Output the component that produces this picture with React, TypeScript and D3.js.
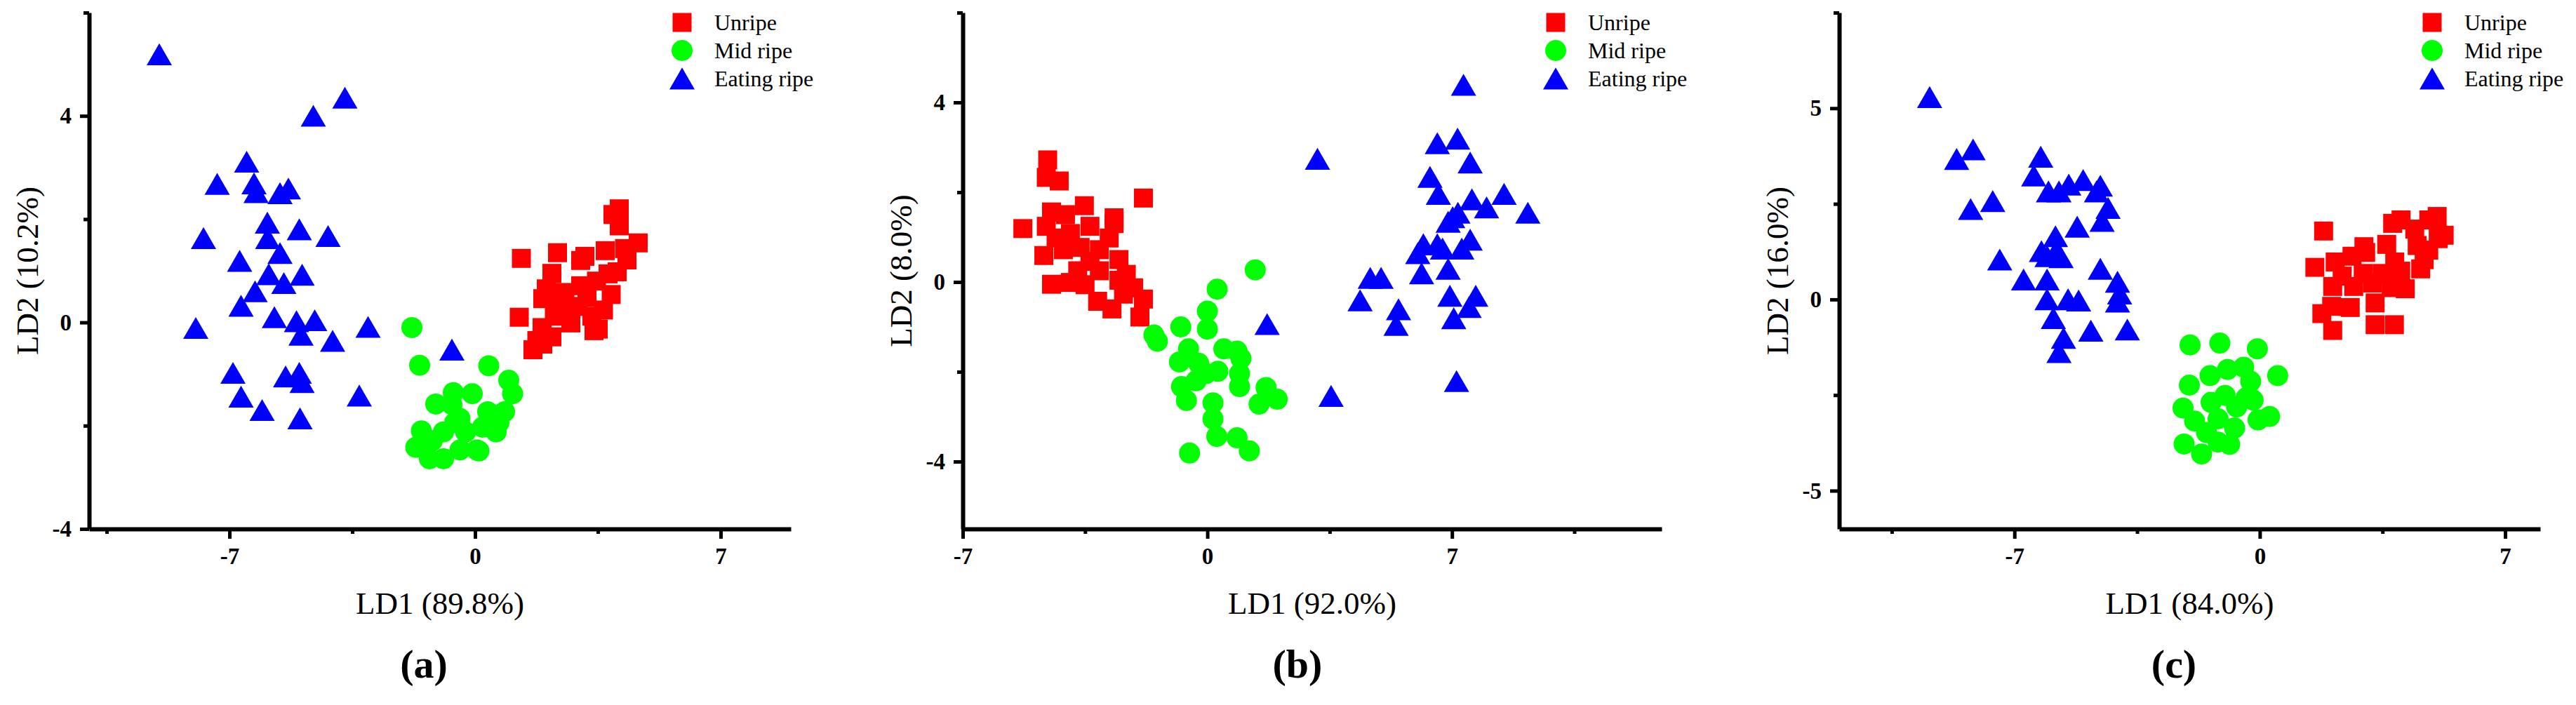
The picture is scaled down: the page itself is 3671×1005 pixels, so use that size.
import React, { useRef, useEffect } from 'react';
import * as d3 from 'd3';

type Pt = [number, number];

// ---- data ----
const UNRIPE_A: Pt[] = [
  [4.11, 2.2], [3.93, 2.09], [4.11, 1.87], [4.65, 1.54], [1.32, 1.24], [2.35, 1.35], [3.71, 1.39],
  [4.26, 1.43], [3.13, 1.28], [3.01, 1.2], [4.33, 1.21], [4.05, 0.98], [2.19, 0.95], [2.03, 0.65],
  [1.93, 0.46], [2.56, 0.58], [3.01, 0.71], [3.46, 0.8], [3.88, 0.54], [3.66, 0.24], [2.93, 0.31],
  [2.26, 0.12], [1.26, 0.1], [2.73, -0.01], [3.39, -0.16], [3.51, -0.13], [1.91, -0.1], [2.19, -0.28],
  [1.76, -0.35], [1.65, -0.53], [1.93, -0.42], [3.19, 0.49], [2.46, 0.31], [3.33, 0.12], [3.79, 0.94],
];
const MID_A: Pt[] = [
  [-1.8, -0.1], [-1.58, -0.83], [0.39, -0.84], [0.96, -1.12], [1.07, -1.38], [-1.12, -1.58],
  [-0.62, -1.36], [-0.08, -1.38], [-1.53, -2.1], [0.36, -1.73], [0.84, -1.73], [0.6, -2.12],
  [-1.69, -2.42], [-1.3, -2.64], [-0.9, -2.64], [-0.43, -2.47], [0.05, -2.47], [-0.27, -2.12],
  [-0.58, -1.94], [-0.9, -2.12], [-1.22, -2.29], [0.21, -2.03], [0.68, -1.94], [-0.66, -1.59],
  [-0.43, -1.86], [0.11, -2.49],
];
const EATING_A: Pt[] = [
  [-9.0, 5.19], [-4.61, 4.0], [-3.71, 4.35], [-6.51, 3.11], [-7.35, 2.68], [-6.3, 2.69], [-6.24, 2.52],
  [-5.56, 2.5], [-5.32, 2.59], [-5.92, 1.93], [-5.01, 1.8], [-4.19, 1.67], [-7.74, 1.63], [-5.91, 1.63],
  [-5.56, 1.34], [-6.71, 1.19], [-5.88, 0.93], [-4.93, 0.92], [-5.45, 0.76], [-6.27, 0.6], [-6.67, 0.32],
  [-5.72, 0.1], [-5.09, 0.02], [-4.57, 0.04], [-4.96, -0.24], [-4.06, -0.36], [-7.96, -0.11],
  [-3.05, -0.09], [-6.9, -0.98], [-5.4, -1.05], [-5.01, -0.98], [-4.93, -1.16], [-6.67, -1.44],
  [-6.07, -1.7], [-3.3, -1.42], [-4.99, -1.86], [-0.66, -0.53],
];

const UNRIPE_B: Pt[] = [
  [-4.57, 2.72], [-4.61, 2.33], [-4.24, 2.25], [-1.83, 1.87], [-5.28, 1.19], [-3.52, 1.7], [-4.46, 1.56],
  [-2.67, 1.43], [-2.67, 1.3], [-4.61, 1.24], [-4.06, 1.5], [-3.92, 1.08], [-3.36, 1.24], [-2.81, 0.98],
  [-4.68, 0.59], [-4.12, 0.72], [-3.64, 0.77], [-3.09, 0.72], [-2.53, 0.5], [-4.46, -0.05], [-3.92, -0.01],
  [-3.71, 0.25], [-3.09, 0.25], [-2.32, 0.17], [-2.11, -0.13], [-3.14, -0.43], [-2.73, -0.6],
  [-1.83, -0.38], [-1.93, -0.78], [-2.4, -0.27], [-2.53, 0.04], [-3.36, 0.46], [-4.33, 0.98], [-3.5, -0.06],
];
const MID_B: Pt[] = [
  [1.37, 0.27], [0.28, -0.16], [0.0, -0.65], [0.0, -1.05], [-0.76, -1.0], [-1.53, -1.18], [-1.43, -1.32],
  [-0.54, -1.49], [-0.8, -1.78], [-0.25, -1.81], [0.47, -1.49], [0.85, -1.54], [0.96, -1.7], [0.3, -1.99],
  [0.92, -2.04], [0.92, -2.33], [-0.74, -2.33], [-0.32, -2.2], [-0.6, -2.64], [0.16, -2.69], [1.68, -2.35],
  [1.48, -2.72], [2.0, -2.61], [0.16, -3.05], [0.27, -3.44], [0.85, -3.47], [1.2, -3.76], [-0.51, -3.81],
  [-0.04, -2.04],
];
const EATING_B: Pt[] = [
  [7.33, 4.39], [6.58, 3.09], [7.16, 3.19], [3.15, 2.74], [7.52, 2.66], [6.37, 2.34], [6.61, 1.96],
  [7.57, 1.84], [7.99, 1.66], [8.49, 1.96], [9.17, 1.54], [7.02, 1.44], [7.17, 1.54], [6.89, 1.34],
  [7.52, 0.94], [6.18, 0.84], [6.58, 0.84], [6.73, 0.74], [7.28, 0.74], [6.02, 0.64], [6.89, 0.29],
  [6.13, 0.19], [4.66, 0.09], [4.97, 0.09], [4.37, -0.41], [6.94, -0.31], [7.68, -0.31], [7.49, -0.56],
  [5.47, -0.61], [5.4, -0.96], [7.05, -0.81], [1.71, -0.94], [7.13, -2.21], [3.54, -2.54],
];

const UNRIPE_C: Pt[] = [
  [1.82, 1.79], [5.06, 2.17], [4.82, 2.08], [4.03, 2.08], [3.79, 1.99], [5.26, 1.68], [5.09, 1.59],
  [4.42, 1.84], [4.49, 1.41], [4.82, 1.29], [2.97, 1.38], [3.62, 1.44], [2.63, 1.13], [3.02, 1.23],
  [2.15, 0.98], [3.85, 0.98], [1.57, 0.84], [4.59, 0.8], [4.02, 0.74], [2.35, 0.61], [2.95, 0.68],
  [3.49, 0.68], [2.08, 0.34], [2.68, 0.34], [3.22, 0.43], [3.75, 0.31], [4.15, 0.28], [2.05, -0.18],
  [2.58, -0.21], [3.29, -0.09], [1.77, -0.37], [2.08, -0.81], [3.29, -0.66], [3.84, -0.66], [4.69, 1.04],
];
const MID_C: Pt[] = [
  [-1.99, -1.19], [-1.14, -1.14], [-0.07, -1.29], [-1.42, -1.99], [-0.92, -1.83], [-0.46, -1.77],
  [-0.26, -2.14], [0.51, -1.99], [-2.01, -2.24], [-0.99, -2.51], [-0.19, -2.63], [-2.19, -2.84],
  [-1.39, -2.69], [-0.66, -2.81], [0.28, -3.06], [-0.05, -3.15], [-1.86, -3.18], [-1.19, -3.12],
  [-0.72, -3.36], [-1.52, -3.48], [-2.16, -3.78], [-0.86, -3.79], [-1.66, -4.04], [-1.19, -3.73],
  [-0.39, -2.57],
];
const EATING_C: Pt[] = [
  [-9.42, 5.29], [-8.18, 3.92], [-8.65, 3.67], [-6.25, 3.73], [-6.45, 3.24], [-6.03, 2.82], [-5.73, 2.82],
  [-5.45, 3.0], [-5.04, 3.12], [-4.55, 2.97], [-4.66, 2.82], [-4.33, 2.39], [-4.5, 2.05], [-7.62, 2.57],
  [-8.25, 2.36], [-5.21, 1.9], [-5.83, 1.65], [-5.8, 1.29], [-6.23, 1.26], [-6.07, 1.13], [-5.67, 1.1],
  [-7.42, 1.04], [-4.55, 0.8], [-6.74, 0.52], [-6.07, 0.52], [-4.06, 0.46], [-6.07, 0.0], [-5.47, 0.0],
  [-5.17, -0.03], [-4.0, 0.15], [-4.06, -0.06], [-5.89, -0.49], [-4.82, -0.82], [-3.78, -0.79],
  [-5.6, -1.01], [-5.73, -1.38],
];

const SERIES_NAMES = ['Unripe', 'Mid ripe', 'Eating ripe'];
const SERIES_COLORS = ['#ff0000', '#00ff00', '#0000ff'];

const PANEL_LABELS = ['(a)', '(b)', '(c)'];
const X_TITLES = ['LD1 (89.8%)', 'LD1 (92.0%)', 'LD1 (84.0%)'];
const Y_TITLES = ['LD2 (10.2%)', 'LD2 (8.0%)', 'LD2 (16.0%)'];
const X_DOMAINS: [number, number][] = [[-11, 9], [-7, 13], [-12, 8]];
const Y_DOMAINS: [number, number][] = [[-4, 6], [-5.5, 6], [-6, 7.5]];
const X_TICKS = [-7, 0, 7];
const X_MINOR_TICKS = [[-10.5, -3.5, 3.5], [-3.5, 3.5, 10.5], [-10.5, -3.5, 3.5]];
const Y_TICKS = [[-4, 0, 4], [-4, 0, 4], [-5, 0, 5]];
const Y_MINOR_TICKS = [[-2, 2, 6], [-2, 2, 6], [-2.5, 2.5, 7.5]];

const PANEL_SERIES: Pt[][][] = [
  [UNRIPE_A, MID_A, EATING_A],
  [UNRIPE_B, MID_B, EATING_B],
  [UNRIPE_C, MID_C, EATING_C],
];

// ---- layout ----
const W = 3671;
const H = 1005;
const PLOT_LEFT = [127, 1372, 2621];
const PLOT_WIDTH = [1000, 996, 999];
const PLOT_TOP = 18;
const PLOT_BOTTOM = 754;
const FONT = "'Times New Roman', 'Liberation Serif', Times, serif";

const SYMBOLS = [d3.symbolSquare, d3.symbolCircle, d3.symbolTriangle];
const SYMBOL_SIZES = [27 * 27, Math.PI * 15 * 15, 561];
// d3's triangle is centred on its centroid, shift so the box centre sits on the point
const SYMBOL_DY = [0, 0, 5];

const App: React.FC = () => {
  const svgRef = useRef<SVGSVGElement>(null);

  useEffect(() => {
    if (!svgRef.current) return;
    const svg = d3.select(svgRef.current);
    svg.selectAll('*').remove();

    const h = PLOT_BOTTOM - PLOT_TOP;

    PANEL_SERIES.forEach((series, i) => {
      const w = PLOT_WIDTH[i];
      const g = svg.append('g').attr('transform', `translate(${PLOT_LEFT[i]},${PLOT_TOP})`);

      const x = d3.scaleLinear().domain(X_DOMAINS[i]).range([0, w]);
      const y = d3.scaleLinear().domain(Y_DOMAINS[i]).range([h, 0]);

      // markers
      series.forEach((pts, s) => {
        g.append('g')
          .selectAll('path')
          .data(pts)
          .join('path')
          .attr('d', d3.symbol().type(SYMBOLS[s]).size(SYMBOL_SIZES[s])())
          .attr('transform', (d) => `translate(${x(d[0])},${y(d[1]) + SYMBOL_DY[s]})`)
          .attr('fill', SERIES_COLORS[s]);
      });

      // x axis
      const xAxis = g
        .append('g')
        .attr('transform', `translate(0,${h})`)
        .call(
          d3
            .axisBottom(x)
            .tickValues(X_TICKS)
            .tickSize(14)
            .tickSizeOuter(0)
            .tickPadding(13)
            .tickFormat((d) => String(d))
        );
      g.append('g')
        .attr('transform', `translate(0,${h})`)
        .call(d3.axisBottom(x).tickValues(X_MINOR_TICKS[i]).tickSize(7).tickFormat(() => ''))
        .call((a) => a.select('.domain').remove())
        .selectAll('line')
        .attr('stroke-width', 5);

      // y axis
      const yAxis = g.append('g').call(
        d3
          .axisLeft(y)
          .tickValues(Y_TICKS[i])
          .tickSize(13)
          .tickSizeOuter(0)
          .tickPadding(12)
          .tickFormat((d) => String(d))
      );
      g.append('g')
        .call(d3.axisLeft(y).tickValues(Y_MINOR_TICKS[i]).tickSize(8).tickFormat(() => ''))
        .call((a) => a.select('.domain').remove())
        .selectAll('line')
        .attr('stroke-width', 5);

      [xAxis, yAxis].forEach((ax) => {
        ax.attr('font-family', FONT).attr('font-size', 33).attr('font-weight', 'bold');
        ax.select('.domain').attr('stroke', '#000').attr('stroke-width', 6);
        ax.selectAll('.tick line').attr('stroke', '#000').attr('stroke-width', 5);
        ax.selectAll('.tick text').attr('fill', '#000');
      });

      // axis titles
      g.append('text')
        .attr('x', w / 2)
        .attr('y', 857)
        .attr('text-anchor', 'middle')
        .attr('font-family', FONT)
        .attr('font-size', 45)
        .attr('fill', '#000')
        .text(X_TITLES[i]);

      g.append('text')
        .attr('transform', `translate(-73,${h / 2}) rotate(-90)`)
        .attr('text-anchor', 'middle')
        .attr('font-family', FONT)
        .attr('font-size', 45)
        .attr('fill', '#000')
        .text(Y_TITLES[i]);

      // panel caption
      g.append('text')
        .attr('x', 477)
        .attr('y', 948)
        .attr('text-anchor', 'middle')
        .attr('font-family', FONT)
        .attr('font-size', 58)
        .attr('font-weight', 'bold')
        .attr('fill', '#000')
        .text(PANEL_LABELS[i]);

      // legend
      const legend = g.append('g').attr('transform', 'translate(845,14)');
      SERIES_NAMES.forEach((name, s) => {
        const row = legend.append('g').attr('transform', `translate(0,${s * 40})`);
        row
          .append('path')
          .attr('d', d3.symbol().type(SYMBOLS[s]).size(SYMBOL_SIZES[s])())
          .attr('transform', `translate(0,${SYMBOL_DY[s]})`)
          .attr('fill', SERIES_COLORS[s]);
        row
          .append('text')
          .attr('x', 46)
          .attr('y', 11)
          .attr('font-family', FONT)
          .attr('font-size', 32)
          .attr('fill', '#000')
          .text(name);
      });
    });
  }, []);

  return (
    <svg
      ref={svgRef}
      width={W}
      height={H}
      style={{ position: 'absolute', left: 0, top: 0, background: '#fff' }}
    />
  );
};

export default App;
